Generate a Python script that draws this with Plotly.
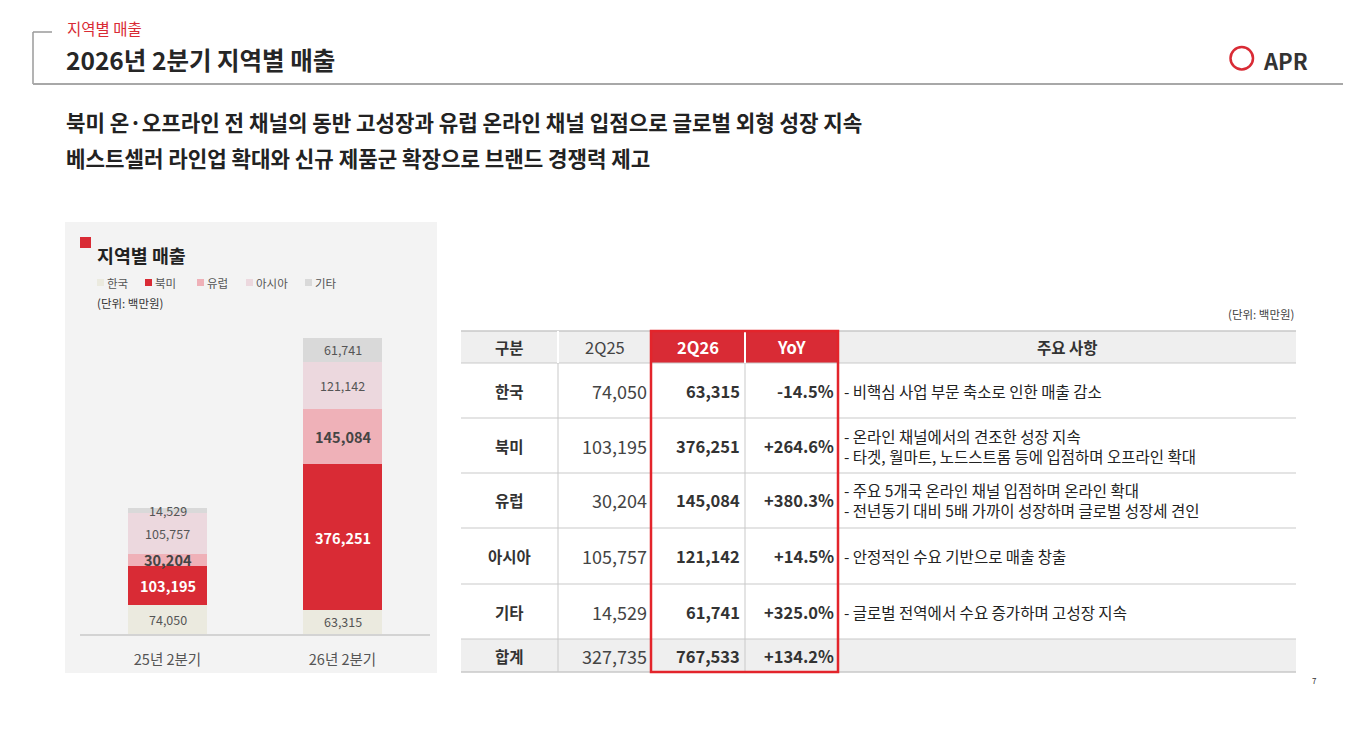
import plotly.graph_objects as go

# 페이지 기본 여백(8px)만큼 안쪽으로 그림
OFF = 8
W, H = 1351 - OFF, 739 - OFF
FONT = "Noto Sans CJK KR, Noto Sans, sans-serif"

# 데이터
categories = ["25년 2분기", "26년 2분기"]
regions = ["한국", "북미", "유럽", "아시아", "기타"]
sales_2q25 = [74050, 103195, 30204, 105757, 14529]
sales_2q26 = [63315, 376251, 145084, 121142, 61741]
headers = ["구분", "2Q25", "2Q26", "YoY", "주요 사항"]
notes = [
    ["- 비핵심 사업 부문 축소로 인한 매출 감소"],
    ["- 온라인 채널에서의 견조한 성장 지속",
     "- 타겟, 월마트, 노드스트롬 등에 입점하며 오프라인 확대"],
    ["- 주요 5개국 온라인 채널 입점하며 온라인 확대",
     "- 전년동기 대비 5배 가까이 성장하며 글로벌 성장세 견인"],
    ["- 안정적인 수요 기반으로 매출 창출"],
    ["- 글로벌 전역에서 수요 증가하며 고성장 지속"],
]
total_label = "합계"

colors = ["#ebeadf", "#d92b35", "#efb1b8", "#ecd8de", "#d9d9d9"]
RED = "#d92b35"


def px(x):
    return (x - OFF) / W


def py(y):
    return 1 - (y - OFF) / H


def ann(x, y, text, size, color, anchor="left", bold=False):
    return dict(x=px(x), y=py(y), xref="paper", yref="paper",
                text=f"<b>{text}</b>" if bold else text, showarrow=False,
                xanchor=anchor, yanchor="middle", align=anchor if anchor != "center" else "center",
                font=dict(size=size, color=color, family=FONT))


def rect(x0, y0, x1, y1, fill, line=None, lw=0, layer="below"):
    return dict(type="rect", xref="paper", yref="paper",
                x0=px(x0), x1=px(x1), y0=py(y0), y1=py(y1),
                fillcolor=fill, line=dict(color=line or "rgba(0,0,0,0)", width=lw), layer=layer)


def line(x0, y0, x1, y1, color, lw=1, layer="above"):
    return dict(type="line", xref="paper", yref="paper",
                x0=px(x0), x1=px(x1), y0=py(y0), y1=py(y1),
                line=dict(color=color, width=lw), layer=layer)


fig = go.Figure()

# 누적 막대
for i, reg in enumerate(regions):
    fig.add_trace(go.Bar(x=categories, y=[sales_2q25[i], sales_2q26[i]], name=reg,
                         marker=dict(color=colors[i], line=dict(width=0)),
                         width=0.457, hoverinfo="skip", showlegend=False))

shapes = []
annotations = []

# 헤더 영역
shapes.append(line(33, 32, 52, 32, "#9a9a9a", 1.5))
shapes.append(line(33, 32, 33, 84, "#9a9a9a", 1.5))
shapes.append(line(33, 84, 1351, 84, "#a8a8a8", 2))
annotations.append(ann(65, 28, "지역별 매출", 15.5, RED))
annotations.append(ann(64, 60, "2026년 2분기 지역별 매출", 24.5, "#262626", bold=True))
shapes.append(dict(type="circle", xref="paper", yref="paper",
                   x0=px(1230.5), x1=px(1253), y0=py(47), y1=py(69.5),
                   line=dict(color=RED, width=2.5)))
annotations.append(ann(1261, 60, "APR", 22, "#333333", bold=True))

annotations.append(ann(64, 121, "북미 온·오프라인 전 채널의 동반 고성장과 유럽 온라인 채널 입점으로 글로벌 외형 성장 지속",
                       21.2, "#222222", bold=True))
annotations.append(ann(64, 157, "베스트셀러 라인업 확대와 신규 제품군 확장으로 브랜드 경쟁력 제고",
                       21.2, "#222222", bold=True))

# 왼쪽 패널
shapes.append(rect(65, 222, 437, 673, "#f3f3f3"))
shapes.append(rect(80, 237, 91, 248, RED))
annotations.append(ann(95, 255, "지역별 매출", 18.4, "#222222", bold=True))
legend_x = [97, 145, 197, 246, 305]
for i, reg in enumerate(regions):
    shapes.append(rect(legend_x[i], 279, legend_x[i] + 7, 286, colors[i]))
    annotations.append(ann(legend_x[i] + 8, 283, reg, 11.5, "#555555"))
annotations.append(ann(95, 303, "(단위: 백만원)", 11.5, "#333333"))

# 막대 라벨
label_fmt = [
    dict(size=12.5, color="#555555", bold=False),
    dict(size=14.5, color="#ffffff", bold=True),
    dict(size=14.5, color="#444444", bold=True),
    dict(size=12.5, color="#555555", bold=False),
    dict(size=12.5, color="#555555", bold=False),
]
for cat, vals in zip(categories, [sales_2q25, sales_2q26]):
    base = 0
    for i, v in enumerate(vals):
        t = f"{v:,}"
        f = label_fmt[i]
        annotations.append(dict(x=cat, y=base + v / 2, xref="x", yref="y",
                                text=f"<b>{t}</b>" if f["bold"] else t, showarrow=False,
                                font=dict(size=f["size"], color=f["color"], family=FONT)))
        base += v

# 표
col_edges = [461, 558, 651, 745, 838, 1296]
row_edges = [331, 363, 418, 473, 528, 584, 639, 672]
grid = "#c9c9c9"

for c in range(5):
    fill = RED if c in (2, 3) else "#efefef"
    shapes.append(rect(col_edges[c], row_edges[0], col_edges[c + 1], row_edges[1], fill))
shapes.append(rect(col_edges[0], row_edges[-2], col_edges[-1], row_edges[-1], "#efefef"))

for j, y in enumerate(row_edges):
    lw = 1.5 if j in (0, len(row_edges) - 1) else 1
    shapes.append(line(col_edges[0], y, col_edges[-1], y, grid, lw))
for x in col_edges[1:-1]:
    shapes.append(line(x, row_edges[1], x, row_edges[-1], grid, 1))
    shapes.append(line(x, row_edges[0], x, row_edges[1], "#ffffff", 2))

shapes.append(rect(col_edges[2], row_edges[0], col_edges[4], row_edges[-1],
                   "rgba(0,0,0,0)", "#e3242b", 2.5, layer="above"))

annotations.append(ann(1296, 314, "(단위: 백만원)", 11.5, "#444444", anchor="right"))

header_style = [("#333333", True), ("#444444", False), ("#ffffff", True), ("#ffffff", True), ("#333333", True)]
hy = (row_edges[0] + row_edges[1]) / 2
for c, h in enumerate(headers):
    cx = (col_edges[c] + col_edges[c + 1]) / 2
    annotations.append(ann(cx, hy, h, 15.5 if c in (0, 4) else 16.5, header_style[c][0],
                           anchor="center", bold=header_style[c][1]))

rows_25 = sales_2q25 + [sum(sales_2q25)]
rows_26 = sales_2q26 + [sum(sales_2q26)]
row_names = regions + [total_label]
for r in range(6):
    cy = (row_edges[r + 1] + row_edges[r + 2]) / 2
    yoy = rows_26[r] / rows_25[r] - 1
    annotations.append(ann((col_edges[0] + col_edges[1]) / 2, cy, row_names[r], 15.5, "#333333",
                           anchor="center", bold=True))
    annotations.append(ann(col_edges[2] - 2, cy, f"{rows_25[r]:,}", 18, "#444444", anchor="right"))
    annotations.append(ann(col_edges[3] - 3, cy, f"{rows_26[r]:,}", 16.5, "#333333",
                           anchor="right", bold=True))
    annotations.append(ann(col_edges[4] - 2, cy, f"{yoy:+.1%}", 16.5, "#333333",
                           anchor="right", bold=True))
    if r < 5:
        annotations.append(ann(col_edges[4] + 4, cy, "<br>".join(notes[r]), 15.5, "#222222"))

annotations.append(ann(1310, 680, "7", 8, "#333333"))

fig.update_layout(
    width=W, height=H,
    margin=dict(l=0, r=0, t=0, b=0),
    paper_bgcolor="white", plot_bgcolor="rgba(0,0,0,0)",
    barmode="stack", showlegend=False,
    font=dict(family=FONT),
    xaxis=dict(domain=[px(80), px(430)], range=[-0.5, 1.5], showgrid=False, zeroline=False,
               showline=True, linecolor="#d3d3d3", linewidth=1.5,
               ticks="outside", ticklen=12, tickcolor="rgba(0,0,0,0)",
               tickfont=dict(size=14.5, color="#555555", family=FONT), fixedrange=True),
    yaxis=dict(domain=[py(634), py(330)], range=[0, 788300], visible=False, fixedrange=True),
    shapes=shapes,
    annotations=annotations,
)

fig.write_html("out.html")
